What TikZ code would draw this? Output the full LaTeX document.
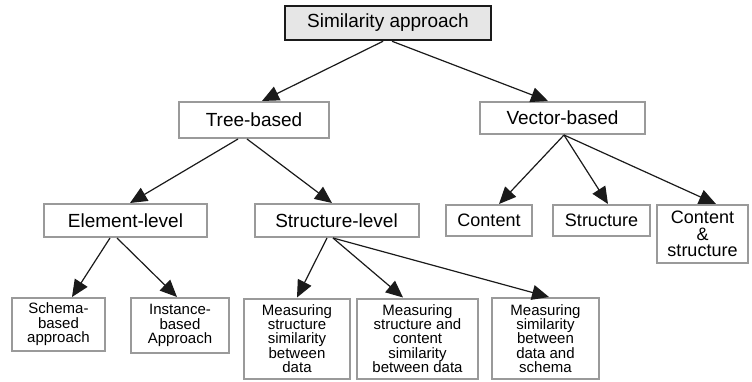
\documentclass[tikz,border=0pt]{standalone}
\usepackage{fontspec}
\setmainfont{Liberation Sans}
\usetikzlibrary{arrows.meta,calc}
\definecolor{boxgray}{HTML}{9A9A9A}
\definecolor{rootfill}{HTML}{E6E6E6}
\definecolor{linedark}{HTML}{1A1A1A}
\begin{document}
\begin{tikzpicture}[x=1pt,y=-1pt,
  box/.style={draw=boxgray, line width=2pt, inner sep=0pt, align=center},
  big/.style={font=\fontsize{19}{22}\selectfont},
  mid/.style={font=\fontsize{18}{16.7}\selectfont},
  small/.style={font=\fontsize{15}{14.4}\selectfont},
  arr/.style={draw=linedark, line width=1.2pt, -{Triangle[length=17pt,width=15pt]}}]
\useasboundingbox (0,0) rectangle (752,381);
% nodes
\node[draw=linedark, fill=rootfill, line width=2.5pt, minimum width=206pt, minimum height=34pt, big] (root) at (388,23) {Similarity approach};
\node[box, big, minimum width=150pt, minimum height=36pt] (tree) at (254,120) {Tree-based};
\node[box, big, minimum width=165pt, minimum height=32pt] (vec) at (562.5,118) {Vector-based};
\node[box, big, minimum width=163pt, minimum height=33pt] (elem) at (125.5,220.5) {Element-level};
\node[box, big, minimum width=164pt, minimum height=33pt] (strl) at (336.5,220.5) {Structure-level};
\node[box, mid, minimum width=86pt, minimum height=31pt] (cont) at (489,220.5) {Content};
\node[box, mid, minimum width=97pt, minimum height=31pt] (stru) at (601.5,220.5) {Structure};
\node[box, mid, minimum width=91pt, minimum height=58pt] (cs) at (702.5,234) {Content\\\&\\structure};
\node[box, small, minimum width=93pt, minimum height=53pt] (schema) at (58.5,324.5) {Schema-\\based\\approach};
\node[box, small, minimum width=98pt, minimum height=55pt] (inst) at (180,325.5) {Instance-\\based\\Approach};
\node[box, small, minimum width=106pt, minimum height=80pt] (m1) at (297,338.5) {Measuring\\structure\\similarity\\between\\data};
\node[box, small, minimum width=121pt, minimum height=80pt] (m2) at (417.5,338.5) {Measuring\\structure and\\content\\similarity\\between data};
\node[box, small, minimum width=107pt, minimum height=81pt] (m3) at (545.5,338.5) {Measuring\\similarity\\between\\data and\\schema};
% connectors
\draw[arr] ([xshift=-5pt]root.south) -- ([xshift=8pt]tree.north);
\draw[arr] ([xshift=4pt]root.south) -- ([xshift=-14.5pt]vec.north);
\draw[arr] ([xshift=-16pt]tree.south) -- ([xshift=4.5pt]elem.north);
\draw[arr] ([xshift=-7pt]tree.south) -- ([xshift=-4.5pt]strl.north);
\draw[arr] ([xshift=-15.5pt]elem.south) -- ([xshift=13.5pt]schema.north);
\draw[arr] ([xshift=-8.5pt]elem.south) -- ([xshift=-3pt]inst.north);
\draw[arr] ([xshift=-9.5pt]strl.south) -- (m1.north);
\draw[arr] ([xshift=-3.5pt]strl.south) -- ([xshift=-14.5pt]m2.north);
\draw[arr] ([xshift=-3.5pt]strl.south) -- ([xshift=3.5pt]m3.north);
\draw[arr] ([xshift=1.5pt]vec.south) -- ([xshift=10pt]cont.north);
\draw[arr] ([xshift=1.5pt]vec.south) -- ([xshift=6.5pt]stru.north);
\draw[arr] ([xshift=1.5pt]vec.south) -- ([xshift=13.5pt]cs.north);
\end{tikzpicture}
\end{document}
